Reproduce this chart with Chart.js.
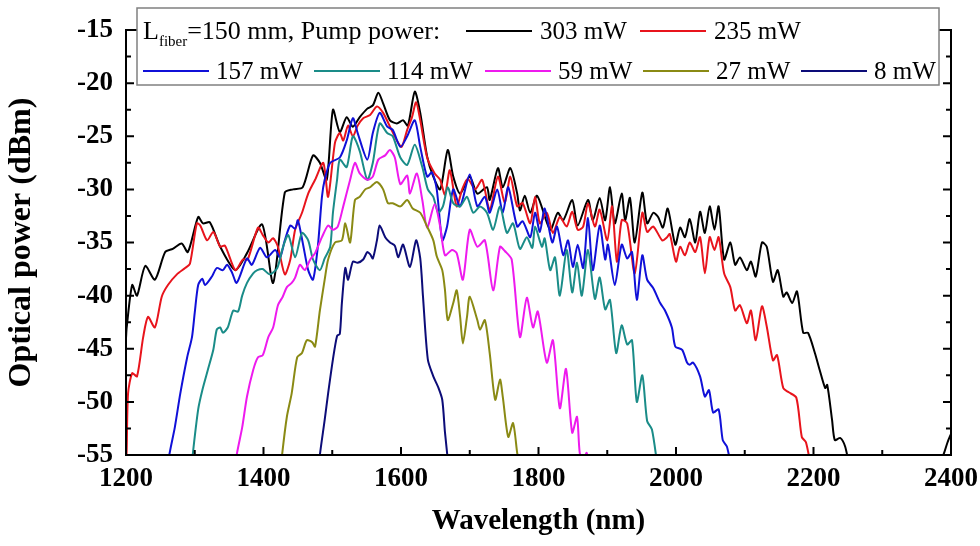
<!DOCTYPE html>
<html>
<head>
<meta charset="utf-8">
<script src="https://cdn.jsdelivr.net/npm/chart.js@4.4.1/dist/chart.umd.min.js"></script>
<style>
  html, body { margin: 0; padding: 0; background: #fff; }
  #wrap { width: 980px; height: 546px; position: relative; }
</style>
</head>
<body>
<div id="wrap"><canvas id="spectrum" width="980" height="546"></canvas></div>
<script>
// Pump powers (legend labels) and line colours
const pumpPowers = ['303 mW', '235 mW', '157 mW', '114 mW', '59 mW', '27 mW', '8 mW'];
const lineColors = ['#000000', '#e8141c', '#1010d8', '#1a8c88', '#ee1aee', '#8a8a14', '#0c0c78'];

// Axis ticks
const xTickValues = [1200, 1400, 1600, 1800, 2000, 2200, 2400];
const yTickValues = [-55, -50, -45, -40, -35, -30, -25, -20, -15];

// 303 mW
const wl303 = [1200, 1201, 1209, 1216, 1228, 1242, 1257, 1268, 1281, 1290, 1305, 1312, 1322, 1337, 1359, 1376, 1398, 1414, 1431, 1443, 1457, 1472, 1482, 1492, 1501, 1511, 1521, 1530, 1540, 1551, 1559, 1567, 1574, 1584, 1594, 1603, 1610, 1620, 1628, 1638, 1647, 1657, 1668, 1676, 1686, 1700, 1711, 1725, 1729, 1741, 1748, 1759, 1769, 1773, 1780, 1788, 1798, 1817, 1828, 1836, 1849, 1857, 1872, 1879, 1889, 1897, 1904, 1911, 1921, 1926, 1933, 1940, 1951, 1958, 1967, 1974, 1981, 1988, 1999, 2006, 2013, 2020, 2028, 2035, 2042, 2049, 2056, 2062, 2070, 2079, 2086, 2093, 2103, 2109, 2116, 2125, 2132, 2141, 2148, 2156, 2161, 2169, 2176, 2185, 2192, 2202, 2209, 2217, 2220, 2227, 2231, 2239, 2246, 2252, 2300, 2383, 2390, 2395, 2400];
const p303 = [-44, -43, -39, -40, -37.2, -38.5, -35.9, -35.6, -35.1, -35.9, -32.6, -33.2, -33.1, -35.4, -37.6, -36, -33.3, -38.8, -30.3, -30, -29.8, -26.8, -27.5, -29.1, -22.5, -24.6, -23.2, -24.1, -23.2, -22.4, -22.1, -20.9, -21.9, -23.5, -23.8, -23.5, -24, -20.8, -22.8, -26.9, -28.8, -30, -26.3, -28.8, -30.4, -28.8, -30.4, -29.8, -31, -28, -29.8, -28, -30.4, -32, -30.6, -32.2, -30.6, -33.8, -32.2, -32.9, -31, -33.4, -31, -32.9, -30.8, -32.9, -29.8, -33.2, -30.4, -32.9, -30.8, -35, -30.3, -33.2, -32.2, -32.6, -33.6, -31.8, -35.2, -33.6, -34.5, -32.8, -35, -32.1, -34.1, -31.6, -33.8, -31.6, -36.6, -35, -37.1, -36.4, -37.6, -36.8, -38.2, -35, -35.4, -38.7, -37.6, -40.1, -39.7, -40.7, -39.6, -43.5, -43.5, -45.4, -47, -48.7, -48.4, -51.7, -53.6, -53.4, -54.2, -56, null, -56, -54.8, -53.8, -53];

// 235 mW
const wl235 = [1200, 1201, 1203, 1209, 1216, 1225, 1232, 1242, 1252, 1261, 1274, 1286, 1293, 1303, 1308, 1318, 1327, 1337, 1344, 1359, 1370, 1377, 1392, 1399, 1407, 1414, 1421, 1431, 1439, 1446, 1456, 1465, 1475, 1487, 1494, 1504, 1511, 1516, 1523, 1530, 1537, 1545, 1555, 1565, 1574, 1584, 1594, 1601, 1609, 1616, 1622, 1628, 1638, 1649, 1657, 1664, 1671, 1681, 1689, 1697, 1708, 1718, 1729, 1741, 1751, 1759, 1769, 1777, 1788, 1795, 1802, 1812, 1821, 1831, 1841, 1849, 1857, 1865, 1872, 1882, 1889, 1900, 1907, 1914, 1921, 1929, 1940, 1951, 1958, 1967, 1980, 1987, 1991, 2000, 2006, 2013, 2020, 2028, 2035, 2042, 2049, 2056, 2062, 2070, 2079, 2086, 2093, 2103, 2109, 2116, 2125, 2132, 2141, 2147, 2156, 2164, 2175, 2183, 2189, 2196];
const p235 = [-56, -54.5, -49.2, -47.3, -47.6, -43.9, -42, -43, -40.1, -39, -38, -37.4, -37, -33.2, -33.4, -34.8, -34, -35.4, -35.3, -37.6, -36.6, -36.6, -33.6, -34.3, -35, -34.6, -35.4, -38, -36.6, -33.8, -32.2, -30.4, -29.1, -27.5, -30.7, -25.6, -24.7, -25.4, -24, -25, -24, -23.3, -23, -22.2, -22.8, -24.1, -25.4, -26, -24.4, -23.2, -21.8, -23.5, -27, -28.5, -29.1, -30.5, -28.2, -31.6, -30, -29, -30, -29.1, -31.9, -28.8, -31.3, -28.8, -31.6, -31.3, -33.2, -30.7, -33.2, -32.2, -34.1, -32.6, -33.5, -32.1, -33.8, -33.5, -31.3, -33.5, -31.9, -34.8, -31.6, -36.8, -32.9, -33.2, -37.9, -32.2, -34, -33.5, -34.8, -34.5, -34.2, -36.8, -35.4, -36.2, -35, -35.9, -34.5, -37.9, -34.5, -35.7, -34.5, -37.9, -39.2, -41.4, -40.9, -42.6, -41.4, -44.2, -41, -42.9, -46.1, -45.6, -48.7, -49.1, -49.6, -53.3, -53.8, -56];

// 157 mW
const wl157 = [1262, 1263, 1271, 1279, 1289, 1296, 1300, 1305, 1311, 1315, 1325, 1332, 1341, 1347, 1354, 1361, 1376, 1383, 1395, 1405, 1417, 1424, 1431, 1439, 1446, 1450, 1457, 1465, 1472, 1479, 1485, 1489, 1497, 1511, 1521, 1530, 1537, 1551, 1559, 1569, 1580, 1588, 1599, 1609, 1620, 1628, 1638, 1645, 1652, 1660, 1667, 1676, 1686, 1700, 1711, 1722, 1729, 1740, 1748, 1756, 1769, 1777, 1788, 1795, 1802, 1809, 1820, 1827, 1836, 1843, 1850, 1857, 1865, 1872, 1879, 1889, 1897, 1901, 1911, 1921, 1929, 1936, 1943, 1951, 1958, 1967, 1977, 1984, 1994, 1999, 2009, 2016, 2020, 2025, 2035, 2042, 2048, 2054, 2062, 2068, 2074, 2080];
const p157 = [-56, -55, -52.4, -49.2, -45.8, -43.9, -41.6, -39, -38.4, -39, -38.2, -37.4, -37.6, -37.1, -37.8, -38.8, -36.5, -37.1, -35.5, -36.4, -35.7, -36.4, -34.8, -33.4, -33.7, -32.9, -35, -37.6, -38.5, -35.4, -30.7, -29.1, -27.5, -27, -25.4, -23.3, -24.7, -27.2, -24.7, -22.8, -24.1, -24.4, -26, -25, -23.5, -26, -28.8, -28.4, -30, -34.8, -33.5, -30, -31.6, -28.6, -31.6, -30.7, -32.2, -30, -32.2, -29.8, -33.5, -33, -34.5, -32.2, -34, -31.8, -35, -33.5, -36.2, -34.8, -37.3, -35.2, -37.4, -32.7, -37.6, -33.4, -36.6, -35.2, -39, -35.2, -36.5, -35.9, -40.4, -36.2, -38.5, -39.3, -40.7, -41.4, -43, -44.8, -45.1, -46.3, -46.5, -46.3, -47.6, -49.5, -48.9, -51, -50.7, -53.6, -54.2, -56];

// 114 mW
const wl114 = [1296, 1297, 1305, 1311, 1319, 1327, 1332, 1337, 1341, 1348, 1356, 1363, 1369, 1376, 1385, 1391, 1399, 1409, 1420, 1428, 1436, 1446, 1456, 1465, 1472, 1482, 1489, 1497, 1501, 1507, 1511, 1521, 1530, 1540, 1551, 1559, 1569, 1580, 1588, 1599, 1609, 1620, 1631, 1639, 1647, 1654, 1661, 1668, 1676, 1686, 1696, 1705, 1715, 1725, 1734, 1744, 1754, 1763, 1773, 1783, 1791, 1795, 1805, 1809, 1817, 1824, 1831, 1841, 1849, 1856, 1863, 1872, 1882, 1889, 1897, 1904, 1913, 1921, 1929, 1936, 1943, 1951, 1958, 1965, 1973];
const p114 = [-56, -55, -50.7, -48.9, -47, -45.1, -43.2, -43, -43.5, -43, -41.4, -41.5, -40, -38.8, -37.9, -37.6, -37.5, -38, -37.4, -35.5, -34.3, -36.4, -34.1, -34.8, -36.6, -37.6, -36.5, -35.4, -32.2, -29.1, -27.2, -27.9, -25, -26.4, -29.1, -27.5, -23.8, -24.7, -25, -27, -27.7, -25.8, -27.9, -30, -30.7, -32.2, -31.6, -29.8, -31.3, -31.6, -30.7, -32.2, -31.6, -32.2, -33.8, -31.6, -34.1, -33.2, -35.6, -34.5, -35.5, -33.5, -35.4, -34.6, -37.6, -36.4, -40, -35.7, -39.7, -36.9, -40, -35.7, -40.3, -38.3, -41.3, -40.4, -45.4, -42.8, -44.6, -44.2, -50, -47.5, -51.8, -52.6, -56];

// 59 mW
const wl59 = [1360, 1361, 1369, 1376, 1385, 1392, 1399, 1407, 1414, 1421, 1428, 1434, 1441, 1446, 1453, 1460, 1468, 1475, 1485, 1494, 1501, 1508, 1516, 1526, 1533, 1540, 1551, 1559, 1567, 1577, 1584, 1591, 1599, 1609, 1613, 1623, 1631, 1638, 1649, 1657, 1664, 1674, 1681, 1690, 1700, 1711, 1722, 1734, 1744, 1751, 1761, 1773, 1783, 1792, 1799, 1812, 1821, 1831, 1840, 1849, 1856, 1860, 1865, 1870, 1874];
const p59 = [-56, -55, -52.4, -49.5, -47, -45.8, -45.6, -43.9, -43, -40.9, -40.1, -39.2, -38.8, -38.3, -37.1, -37.6, -36.6, -36, -34.5, -33.4, -33.8, -33.5, -31.6, -29.1, -27.5, -28.5, -29.1, -28.8, -27.2, -26.8, -26.3, -27, -29.5, -28.7, -30.4, -28.5, -31, -33.6, -31.4, -33.5, -36.2, -35.7, -36, -38.5, -33.8, -35.4, -34.8, -39.5, -35.4, -35.8, -36.6, -43.9, -40.2, -43, -41.5, -46.3, -44.2, -50.6, -46.9, -52.9, -51.4, -54.8, -55.5, -54.8, -56];

// 27 mW
const wl27 = [1426, 1427, 1434, 1441, 1449, 1456, 1463, 1471, 1475, 1482, 1489, 1494, 1504, 1514, 1519, 1526, 1533, 1540, 1548, 1555, 1565, 1574, 1581, 1588, 1599, 1609, 1617, 1628, 1638, 1647, 1652, 1660, 1664, 1668, 1676, 1681, 1686, 1690, 1696, 1700, 1711, 1715, 1722, 1729, 1737, 1744, 1748, 1756, 1763, 1769, 1772];
const p27 = [-56, -55, -51.4, -49.2, -45.8, -45.4, -44.2, -44.4, -44.8, -41.4, -38.5, -36.6, -35, -34.8, -33.2, -35, -31, -30.7, -30, -29.8, -29.3, -30, -31.3, -31.3, -31.6, -31, -31.8, -32.2, -33.5, -34.8, -36.3, -37.6, -39.5, -42.3, -40.7, -39.5, -42, -44.5, -42, -40.1, -42.3, -43.2, -42.3, -45.4, -49.8, -47.9, -49.5, -53.3, -52, -54.8, -56];

// 8 mW
const wl8 = [1481, 1482, 1489, 1494, 1501, 1507, 1511, 1514, 1519, 1523, 1530, 1537, 1545, 1551, 1555, 1559, 1565, 1569, 1577, 1584, 1591, 1596, 1603, 1613, 1622, 1628, 1632, 1639, 1647, 1654, 1660, 1664, 1669];
const p8 = [-56, -55, -51.7, -49.2, -46, -43.8, -43.6, -40.7, -37.4, -38.5, -36.8, -36.9, -36.6, -35.9, -36.1, -36.5, -34.8, -33.4, -34.5, -35, -35.3, -36.4, -35.2, -37.3, -34.8, -36.5, -40.1, -46, -47.6, -48.6, -49.8, -52.9, -56];

const wlSeries = [wl303, wl235, wl157, wl114, wl59, wl27, wl8];
const pSeries = [p303, p235, p157, p114, p59, p27, p8];

const serif = '"Liberation Serif", "Times New Roman", serif';

// Box frame with inward ticks (major + minor on all sides)
const framePlugin = {
  id: 'frame',
  afterDatasetsDraw(chart) {
    const { ctx, chartArea: a, scales: { x, y } } = chart;
    ctx.save();
    ctx.strokeStyle = '#000';
    ctx.lineWidth = 2;
    ctx.strokeRect(a.left, a.top, a.right - a.left, a.bottom - a.top);

    const tick = (px, len, vertical) => {
      ctx.beginPath();
      if (vertical) {
        ctx.moveTo(px, a.bottom); ctx.lineTo(px, a.bottom - len);
        ctx.moveTo(px, a.top); ctx.lineTo(px, a.top + len);
      } else {
        ctx.moveTo(a.left, px); ctx.lineTo(a.left + len, px);
        ctx.moveTo(a.right, px); ctx.lineTo(a.right - len, px);
      }
      ctx.stroke();
    };
    xTickValues.forEach((v, i) => {
      tick(x.getPixelForValue(v), 8, true);
      if (i < xTickValues.length - 1) tick(x.getPixelForValue((v + xTickValues[i + 1]) / 2), 5, true);
    });
    yTickValues.forEach((v, i) => {
      tick(y.getPixelForValue(v), 8, false);
      if (i < yTickValues.length - 1) tick(y.getPixelForValue((v + yTickValues[i + 1]) / 2), 5, false);
    });
    ctx.restore();
  }
};

// Two-row legend in a white box at the top
const legendPlugin = {
  id: 'boxLegend',
  afterDraw(chart) {
    const { ctx } = chart;
    ctx.save();
    ctx.fillStyle = '#fff';
    ctx.strokeStyle = '#808080';
    ctx.lineWidth = 1.5;
    ctx.fillRect(137, 8, 802, 77);
    ctx.strokeRect(137, 8, 802, 77);

    ctx.fillStyle = '#000';
    ctx.textBaseline = 'alphabetic';
    ctx.textAlign = 'left';
    const row1 = 39, row2 = 79;
    ctx.font = '26px ' + serif;
    ctx.fillText('L', 143, row1);
    let xx = 143 + ctx.measureText('L').width;
    ctx.font = '15px ' + serif;
    ctx.fillText('fiber', xx, row1 + 7);
    xx += ctx.measureText('fiber').width;
    ctx.font = '26px ' + serif;
    ctx.fillText('=150 mm, Pump power:', xx, row1);

    ctx.font = '25px ' + serif;
    const slots = [
      [466, 532, 540, row1], [640, 706, 714, row1],
      [143, 209, 216, row2], [314, 380, 387, row2], [485, 551, 558, row2],
      [643, 709, 716, row2], [801, 867, 874, row2]
    ];
    slots.forEach(([x0, x1, tx, by], i) => {
      ctx.strokeStyle = lineColors[i];
      ctx.lineWidth = 2;
      ctx.beginPath();
      ctx.moveTo(x0, by - 8);
      ctx.lineTo(x1, by - 8);
      ctx.stroke();
      ctx.fillStyle = '#000';
      ctx.fillText(pumpPowers[i], tx, by);
    });
    ctx.restore();
  }
};

const ctx = document.getElementById('spectrum').getContext('2d');

new Chart(ctx, {
  type: 'line',
  data: {
    datasets: pumpPowers.map((label, i) => ({
      label,
      data: wlSeries[i].map((w, j) => ({ x: w, y: pSeries[i][j] })),
      borderColor: lineColors[i],
      backgroundColor: lineColors[i],
      borderWidth: 2,
      pointRadius: 0,
      tension: 0.25,
      spanGaps: false,
      clip: 0,
      order: pumpPowers.length - i
    }))
  },
  options: {
    responsive: false,
    animation: false,
    layout: { padding: { top: 30, right: 29, bottom: 0, left: 0 } },
    plugins: {
      legend: { display: false },
      tooltip: { enabled: false }
    },
    scales: {
      x: {
        type: 'linear',
        min: 1200,
        max: 2400,
        afterBuildTicks: (s) => { s.ticks = xTickValues.map(v => ({ value: v })); },
        afterFit: (s) => { s.height = 91; s.paddingLeft = 0; s.paddingRight = 0; },
        grid: { display: false, drawTicks: false },
        border: { display: false },
        ticks: {
          padding: 8,
          color: '#000',
          autoSkip: false,
          maxRotation: 0,
          callback: (v) => String(v),
          font: { family: serif, size: 27, weight: 'bold' }
        },
        title: {
          display: true,
          text: 'Wavelength (nm)',
          color: '#000',
          font: { family: serif, size: 29, weight: 'bold' },
          padding: { top: 0, bottom: 7 }
        }
      },
      y: {
        min: -55,
        max: -15,
        afterBuildTicks: (s) => { s.ticks = yTickValues.map(v => ({ value: v })); },
        afterFit: (s) => { s.width = 126; s.paddingTop = 0; s.paddingBottom = 0; },
        grid: { display: false, drawTicks: false },
        border: { display: false },
        ticks: {
          padding: 13,
          color: '#000',
          autoSkip: false,
          callback: (v) => String(v),
          font: { family: serif, size: 27, weight: 'bold' }
        },
        title: {
          display: true,
          text: 'Optical power (dBm)',
          color: '#000',
          font: { family: serif, size: 32, weight: 'bold' },
          padding: { top: 3, bottom: 0 }
        }
      }
    }
  },
  plugins: [framePlugin, legendPlugin]
});
</script>
</body>
</html>
